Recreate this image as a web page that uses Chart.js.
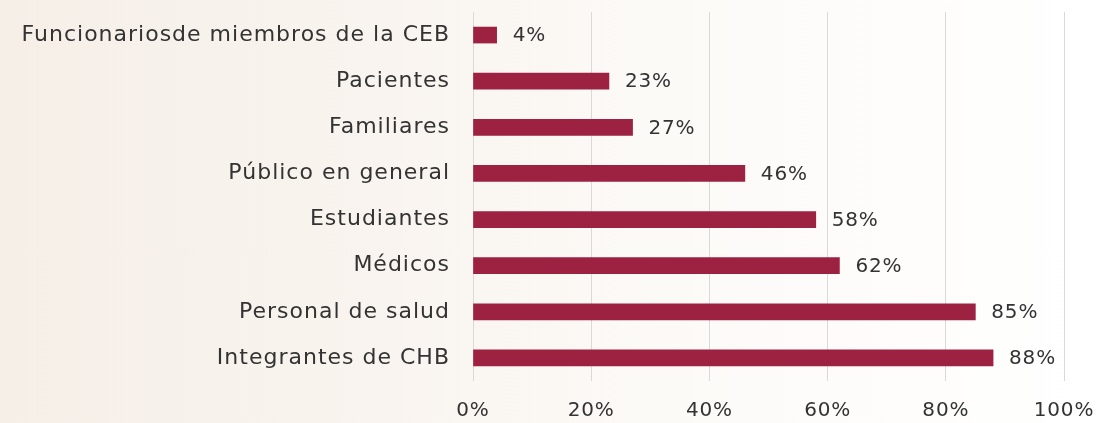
<!DOCTYPE html>
<html>
<head>
<meta charset="utf-8">
<script src="https://cdn.jsdelivr.net/npm/chart.js@4.4.0/dist/chart.umd.min.js"></script>
<style>
html,body{margin:0;padding:0;}
body{width:1097px;height:423px;overflow:hidden;
background:linear-gradient(90deg,#f6efe8 0%,#f9f4ef 35%,#fcfaf7 60%,#ffffff 100%);}
#wrap{position:relative;width:1097px;height:423px;}
</style>
</head>
<body>
<div id="wrap"><canvas id="c" width="1097" height="423"></canvas></div>
<script>
const categories = ["Funcionariosde miembros de la CEB","Pacientes","Familiares","Público en general","Estudiantes","Médicos","Personal de salud","Integrantes de CHB"];
const values = [4,23,27,46,58,62,85,88];
const tickValues = [0,20,40,60,80,100];

const FONT = "'DejaVu Sans', sans-serif";
const TXT = "#333333";

function spaced(scale, px){
  if (scale._spacedPatched) return;
  const orig = scale.drawLabels.bind(scale);
  scale.drawLabels = function(a){
    const ctx = scale.ctx;
    ctx.save();
    ctx.letterSpacing = px;
    orig(a);
    ctx.restore();
  };
  scale._spacedPatched = true;
}

const spacing = {
  id:'spacing',
  afterLayout(chart){
    spaced(chart.scales.y, '1px');
    spaced(chart.scales.x, '0.8px');
  }
};

const valueLabels = {
  id:'valueLabels',
  afterDatasetsDraw(chart){
    const ctx = chart.ctx;
    const meta = chart.getDatasetMeta(0);
    ctx.save();
    ctx.letterSpacing = '0.8px';
    ctx.font = "20px " + FONT;
    ctx.fillStyle = TXT;
    ctx.textBaseline = 'middle';
    ctx.textAlign = 'left';
    meta.data.forEach((bar,i)=>{
      ctx.fillText(values[i] + '%', bar.x + 16, bar.y + 1);
    });
    ctx.restore();
  }
};

new Chart(document.getElementById('c'), {
  type:'bar',
  data:{labels:categories, datasets:[{data:values, backgroundColor:'#9d2242', barThickness:16}]},
  options:{
    indexAxis:'y',
    responsive:false,
    animation:false,
    layout:{padding:{top:12,right:33,left:0,bottom:0}},
    plugins:{legend:{display:false},tooltip:{enabled:false}},
    scales:{
      x:{min:0,max:100,
        afterBuildTicks(s){ s.ticks = tickValues.map(v=>({value:v})); },
        afterFit(s){ s.height = 42; s.paddingLeft = 0; s.paddingRight = 0; },
        grid:{color:'#d9d9d9',lineWidth:1,drawTicks:false},
        border:{display:false},
        ticks:{padding:18,color:TXT,font:{family:FONT,size:20},callback:v=>v+'%'}
      },
      y:{
        afterFit(s){ s.width = 473; s.paddingTop = 0; s.paddingBottom = 0; },
        grid:{display:false,drawTicks:false},
        border:{display:false},
        ticks:{padding:23,color:TXT,font:{family:FONT,size:22}}
      }
    }
  },
  plugins:[spacing, valueLabels]
});
</script>
</body>
</html>
